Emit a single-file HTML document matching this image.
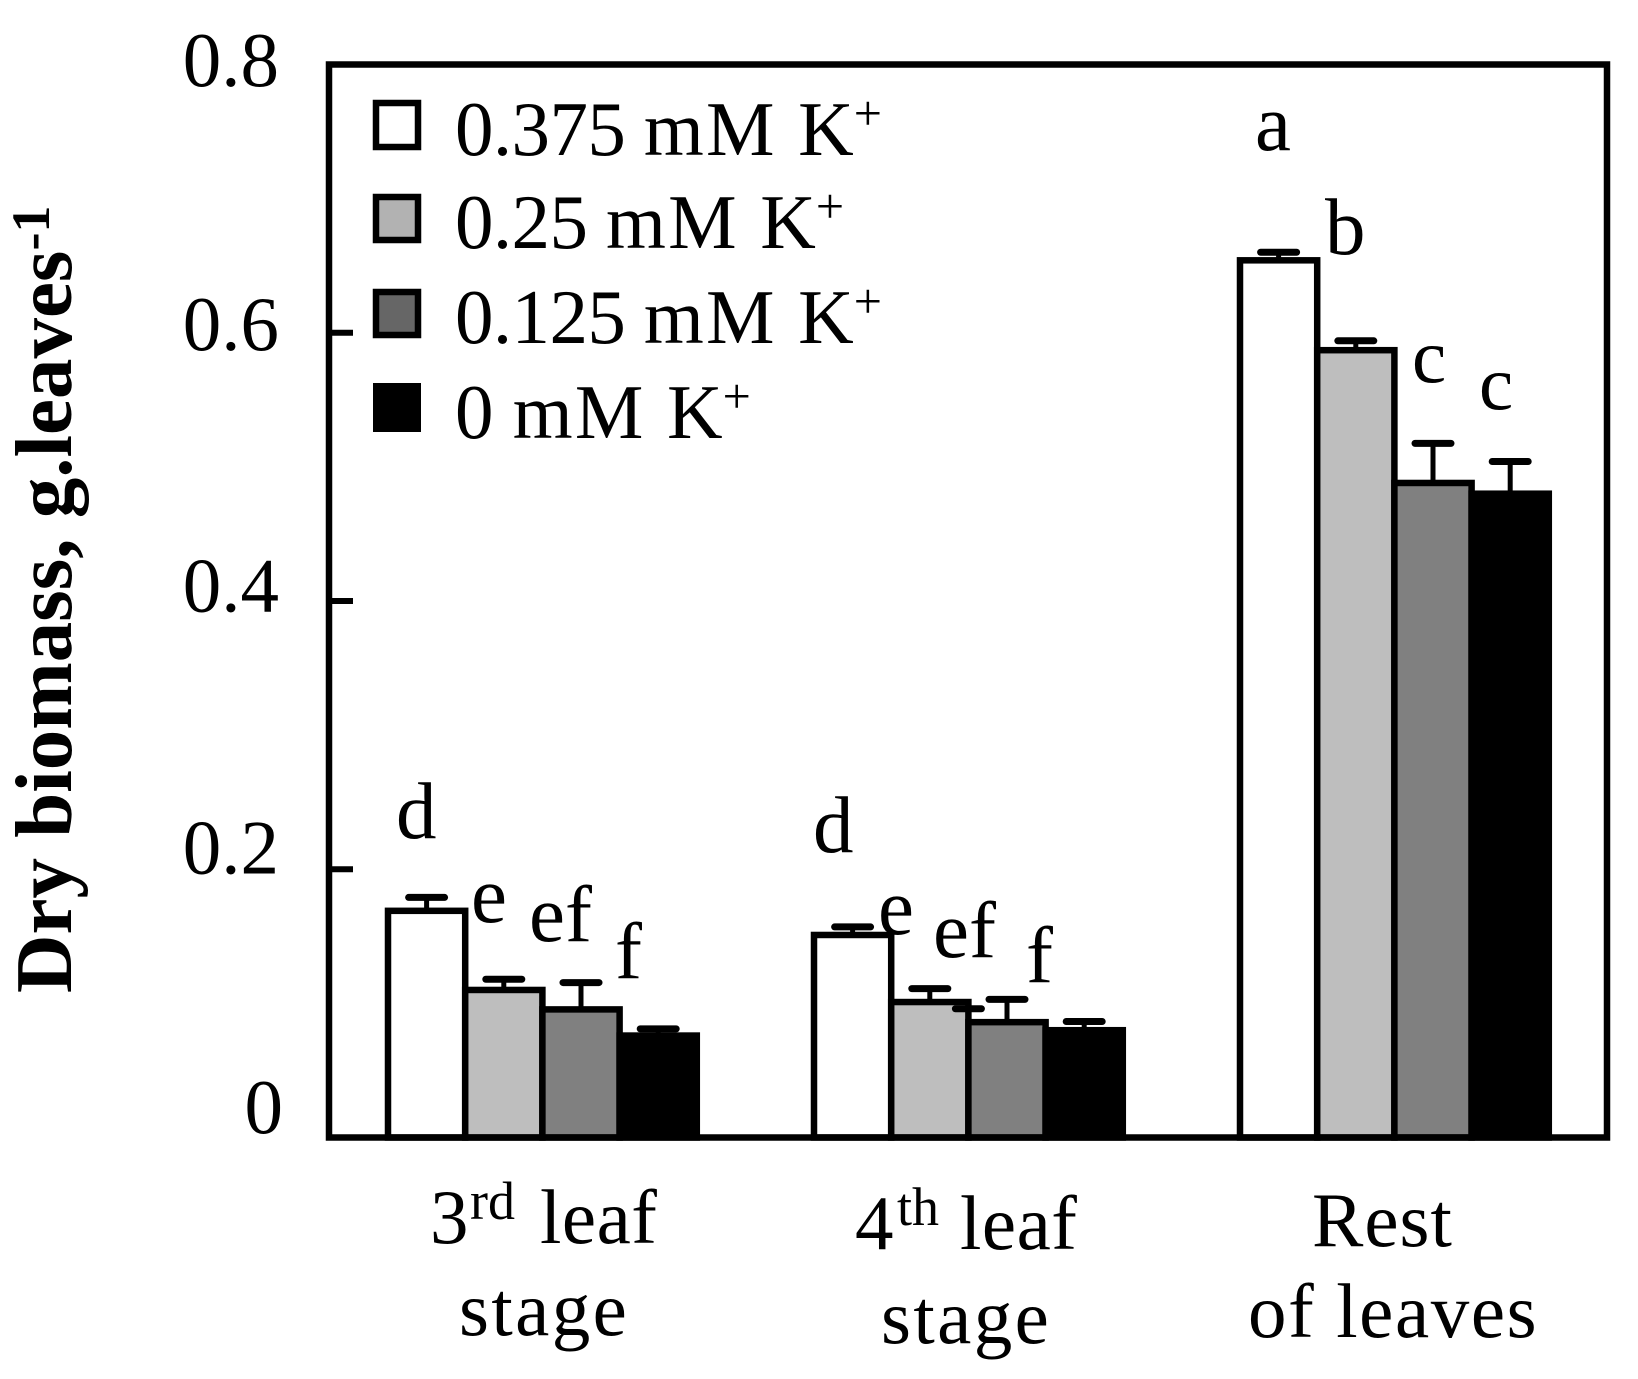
<!DOCTYPE html>
<html lang="en">
<head>
<meta charset="utf-8">
<title>Dry biomass chart</title>
<style>
html,body{margin:0;padding:0;background:#fff;width:1638px;height:1379px;overflow:hidden}
svg{display:block}
text{font-family:"Liberation Serif",serif;fill:#000;font-size:77px}
.sig text{font-size:81px}
.sig text.c{font-size:77px}
.mm{letter-spacing:2.2px}
.num{letter-spacing:-0.6px}
.plus{font-size:50px}
</style>
</head>
<body>
<svg id="chart" xmlns="http://www.w3.org/2000/svg" width="1638" height="1379" viewBox="0 0 1638 1379">
  <rect x="0" y="0" width="1638" height="1379" fill="#fff"/>
  <g id="bars"></g>
  <g id="errors"></g>
  <rect x="329" y="64.5" width="1278" height="1073" fill="none" stroke="#000" stroke-width="6.5"/>
  <g id="ticks"></g>

  <text transform="translate(71,993) rotate(-90)" style="font-size:81px;font-weight:bold">Dry biomass, g.leaves<tspan dy="-22" style="font-size:54px">-1</tspan></text>

  <g>
    <g>
      <rect x="376" y="103" width="42" height="44" fill="#fff" stroke="#000" stroke-width="6.5"/>
      <text x="455" y="155"><tspan class="num">0.375 </tspan><tspan class="mm">mM </tspan>K<tspan class="plus" dy="-25">+</tspan></text>
    </g>
    <g>
      <rect x="376" y="197" width="42" height="43" fill="#b2b2b2" stroke="#000" stroke-width="6.5"/>
      <text x="455" y="248"><tspan class="num">0.25 </tspan><tspan class="mm">mM </tspan>K<tspan class="plus" dy="-25">+</tspan></text>
    </g>
    <g>
      <rect x="376" y="292" width="42" height="43" fill="#666" stroke="#000" stroke-width="6.5"/>
      <text x="455" y="343"><tspan class="num">0.125 </tspan><tspan class="mm">mM </tspan>K<tspan class="plus" dy="-25">+</tspan></text>
    </g>
    <g>
      <rect x="373" y="383" width="48" height="49" fill="#000"/>
      <text x="455" y="438">0 <tspan class="mm">mM </tspan>K<tspan class="plus" dy="-25">+</tspan></text>
    </g>
  </g>

  <g class="sig">
    <text x="396" y="838">d</text>
    <text x="471" y="922">e</text>
    <text x="529" y="941">ef</text>
    <text x="615" y="978">f</text>
    <text x="813" y="852">d</text>
    <text x="878" y="934">e</text>
    <text x="933" y="957">ef</text>
    <text x="1026" y="982">f</text>
    <text x="1255" y="150">a</text>
    <text x="1325" y="254">b</text>
    <text class="c" x="1412" y="382">c</text>
    <text class="c" x="1479" y="409">c</text>
  </g>

  <g>
    <text y="1243"><tspan x="430">3</tspan><tspan x="470" dy="-24" style="font-size:54px">rd</tspan><tspan x="540" dy="24" style="letter-spacing:0.5px">leaf</tspan></text>
    <text x="459" y="1335" style="letter-spacing:2.4px">stage</text>
    <text y="1249"><tspan x="855">4</tspan><tspan x="897" dy="-24" style="font-size:54px">th</tspan><tspan x="960" dy="24" style="letter-spacing:0.5px">leaf</tspan></text>
    <text x="881" y="1343" style="letter-spacing:2.4px">stage</text>
    <text x="1312" y="1246" style="letter-spacing:1px">Rest</text>
    <text x="1248" y="1337" style="letter-spacing:1.6px">of leaves</text>
  </g>
</svg>
<script>
const categories = ['3rd leaf stage', '4th leaf stage', 'Rest of leaves'];
const seriesNames = ['0.375', '0.25', '0.125', '0'];
const seriesFills = ['#ffffff', '#bebebe', '#808080', '#000000'];
const values0375 = [0.169, 0.151, 0.654];
const values025 = [0.110, 0.101, 0.587];
const values0125 = [0.0955, 0.086, 0.488];
const values0 = [0.076, 0.080, 0.480];
const upper0375 = [0.179, 0.157, 0.660];
const upper025 = [0.118, 0.111, 0.594];
const upper0125 = [0.1155, 0.103, 0.5175];
const upper0 = [0.081, 0.0865, 0.504];
const strayCapValue = 0.096;
const yTicks = [0, 0.2, 0.4, 0.6, 0.8];
const yTickLabels = ['0', '0.2', '0.4', '0.6', '0.8'];

const allValues = [values0375, values025, values0125, values0];
const allUpper = [upper0375, upper025, upper0125, upper0];

const NS = 'http://www.w3.org/2000/svg';
const plotBottom = 1137.5, plotTop = 64.5, yMax = 0.8;
const groupStart = 388, groupStep = 426, barW = 77.2, capHalf = 21;
function y(v) { return plotBottom - (v / yMax) * (plotBottom - plotTop); }
function labelY(v) { return 1133 - (v / yMax) * 1047 + (v > 0.1 && v < 0.7 ? 2 : 0); }
function barX(g, s) { return groupStart + g * groupStep + s * barW; }
function mk(tag, attrs, parent) {
  const el = document.createElementNS(NS, tag);
  for (const k in attrs) el.setAttribute(k, attrs[k]);
  parent.appendChild(el);
  return el;
}
const barsLayer = document.getElementById('bars');
const errorsLayer = document.getElementById('errors');
const ticksLayer = document.getElementById('ticks');

categories.forEach(function (cat, g) {
  seriesNames.forEach(function (name, s) {
    const v = allValues[s][g];
    const bar = mk('rect', {
      x: barX(g, s), y: y(v), width: barW, height: plotBottom - y(v),
      fill: seriesFills[s], stroke: '#000', 'stroke-width': 6.5
    }, barsLayer);
    
    
  });
});

categories.forEach(function (cat, g) {
  seriesNames.forEach(function (name, s) {
    const cx = barX(g, s) + barW / 2;
    const stem = mk('line', {
      x1: cx, x2: cx, y1: y(allValues[s][g]), y2: y(allUpper[s][g]),
      stroke: '#000', 'stroke-width': 5
    }, errorsLayer);
    
    
    const cap = mk('line', {
      x1: cx - capHalf + 3, x2: cx + capHalf - 3, y1: y(allUpper[s][g]), y2: y(allUpper[s][g]),
      stroke: '#000', 'stroke-width': 7, 'stroke-linecap': 'round'
    }, errorsLayer);
    
    
  });
});

const strayX = barX(1, 2);
const stray = mk('line', {
  x1: strayX - 13, x2: strayX + 13, y1: y(strayCapValue), y2: y(strayCapValue),
  stroke: '#000', 'stroke-width': 7, 'stroke-linecap': 'round'
}, errorsLayer);



yTicks.forEach(function (t, i) {
  if (t > 0 && t < yMax) {
    const tick = mk('line', {
      x1: 329, x2: 353, y1: y(t), y2: y(t), stroke: '#000', 'stroke-width': 6
    }, ticksLayer);
    
    
  }
  const lab = mk('text', { x: t === 0 ? 283 : 279, y: labelY(t), 'text-anchor': 'end' }, ticksLayer);
  lab.textContent = yTickLabels[i];
  
  
});
</script>
</body>
</html>
